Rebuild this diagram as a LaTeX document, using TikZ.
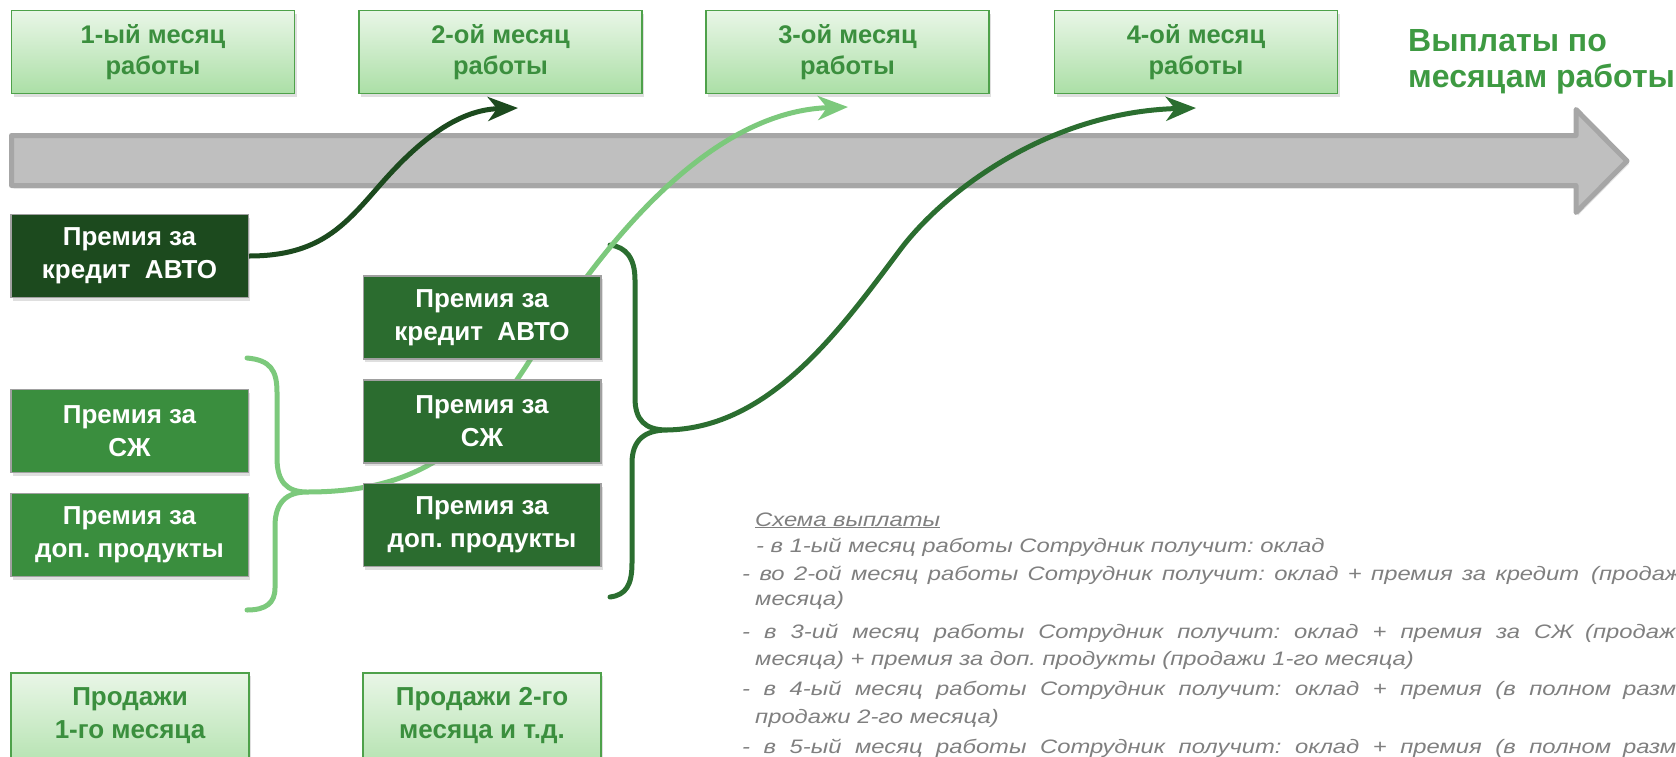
\documentclass[tikz,border=0pt]{standalone}
\usepackage{fontspec}
\setmainfont{Liberation Sans}
\newfontfamily\notefont[FakeStretch=1.22]{Liberation Sans Italic}
\usetikzlibrary{arrows.meta,shadows}
\frenchspacing
\definecolor{darkbox}{HTML}{1C4A1E}
\definecolor{leftbox}{HTML}{3A8E3E}
\definecolor{midbox}{HTML}{2B6C2F}
\definecolor{boxgray}{HTML}{A0A0A0}
\definecolor{topA}{HTML}{E9F6E7}
\definecolor{topB}{HTML}{ABDFA6}
\definecolor{topborder}{HTML}{4EA14A}
\definecolor{toptext}{HTML}{3B8F3E}
\definecolor{titlegreen}{HTML}{3E9A42}
\definecolor{arrowfill}{HTML}{BFBFBF}
\definecolor{arrowdraw}{HTML}{A6A6A6}
\definecolor{lightline}{HTML}{7CC97C}
\definecolor{darkline}{HTML}{2B6E30}
\definecolor{darkestline}{HTML}{1C4A1E}
\definecolor{notegray}{HTML}{7F7F7F}
\begin{document}
\begin{tikzpicture}[x=1pt,y=-1pt,
  shade/.style={drop shadow={opacity=0.25,shadow xshift=2pt,shadow yshift=-3pt}},
  topbox/.style={shade,draw=topborder,line width=1.5pt,top color=topA,bottom color=topB,
    minimum width=283pt,minimum height=83pt,inner sep=0pt,align=center,text=toptext,
    font=\bfseries\fontsize{25.5}{31}\selectfont},
  bonusbox/.style={shade,draw=boxgray,line width=1.5pt,minimum width=237.5pt,minimum height=83pt,
    inner sep=0pt,align=center,text=white,font=\bfseries\fontsize{26}{33}\selectfont},
  salesbox/.style={shade,draw=topborder,line width=1.5pt,top color=topA,bottom color=topB,
    minimum width=238pt,minimum height=110pt,text depth=30pt,anchor=north,inner sep=0pt,
    align=center,text=toptext,font=\bfseries\fontsize{26}{33}\selectfont},
  note/.style={anchor=base west,inner sep=0pt,text=notegray,font=\notefont\fontsize{19.5}{26}\selectfont},
  link/.style={line width=5pt,-{Stealth[length=30pt,width=24pt,inset=9pt]}},
  brace/.style={line width=5pt,line cap=round}
]
\useasboundingbox (0,0) rectangle (1676,756);

% timeline arrow
\draw[line width=5pt,line join=round,draw=arrowdraw,fill=arrowfill,
      drop shadow={opacity=0.2,shadow xshift=2pt,shadow yshift=-3pt}]
  (11.5,135.5) -- (1576,135.5) -- (1576,109.5) -- (1627,161) -- (1576,212.5)
  -- (1576,185.5) -- (11.5,185.5) -- cycle;

% top month boxes
\node[topbox] (m1) at (153,52) {1-ый месяц\\работы};
\node[topbox] (m2) at (500.5,52) {2-ой месяц\\работы};
\node[topbox] (m3) at (847.5,52) {3-ой месяц\\работы};
\node[topbox] (m4) at (1196,52) {4-ой месяц\\работы};

\node[anchor=west,inner sep=0pt,align=left,text=titlegreen,
      font=\bfseries\fontsize{32}{36}\selectfont] (title) at (1408,62)
  {Выплаты по\\месяцам работы};

% arrow end points
\coordinate (a2) at (518,108);
\coordinate (a3) at (848,107);
\coordinate (a4) at (1196,108);

% left brace (light)
\coordinate (lbt) at (307,492);
\draw[brace,lightline] (247,358) .. controls (270,360) and (277,370) .. (277,392)
  -- (277,458) .. controls (277,482) and (287,492) .. (lbt)
  .. controls (287,492) and (275,502) .. (275,526)
  -- (275,588) .. controls (275,603) and (266,610) .. (247,610);

% right brace (dark)
\coordinate (dbt) at (667,430);
\draw[brace,darkline] (610,245) .. controls (626,247) and (635,258) .. (635,280)
  -- (635,398) .. controls (635,420) and (645,430) .. (dbt)
  .. controls (645,430) and (632,440) .. (632,463)
  -- (632,563) .. controls (632,585) and (626,595) .. (610,597);

% light connector (behind middle boxes)
\draw[link,lightline] (lbt) .. controls (410,492) and (470,455) .. (530,360)
  .. controls (575,289) and (690,112) .. (a3);

% dark connector
\draw[link,darkline] (dbt) .. controls (770,428) and (840,330) .. (900,250)
  .. controls (945,190) and (1050,112) .. (a4);

% left column
\node[bonusbox,fill=darkbox] (la) at (129.5,256) {Премия за\\кредит\ \ АВТО};
\node[bonusbox,fill=leftbox] (ls) at (129.5,431) {Премия за\\СЖ};
\node[bonusbox,fill=leftbox] (ld) at (129.5,535) {Премия за\\доп. продукты};
\node[salesbox] (s1) at (130,672) {Продажи\\1-го месяца};

% middle column
\node[bonusbox,fill=midbox] (ma) at (482,317.5) {Премия за\\кредит\ \ АВТО};
\node[bonusbox,fill=midbox] (ms) at (482,421.5) {Премия за\\СЖ};
\node[bonusbox,fill=midbox] (md) at (482,525) {Премия за\\доп. продукты};
\node[salesbox] (s2) at (482,672) {Продажи 2-го\\месяца и т.д.};

% darkest connector
\draw[link,darkestline] (la.east) .. controls (320,256) and (345,225) .. (380,185)
  .. controls (415,145) and (455,110) .. (a2);

% payment scheme text
\node[note] (n0) at (755,526) {\underline{Схема выплаты}};
\node[note] (n1) at (756,552) {- в 1-ый месяц работы Сотрудник получит: оклад};
\node[note] (n2) at (742,580) {\makebox[837pt][s]{- во 2-ой месяц работы Сотрудник получит: оклад + премия за кредит}\hspace{12pt}(продажи};
\node[note] (n2b) at (755,605) {месяца)};
\node[note] (n3) at (742,638) {\makebox[831pt][s]{- в 3-ий месяц работы Сотрудник получит: оклад + премия за СЖ}\hspace{12pt}(продажи};
\node[note] (n3b) at (755,665) {месяца) + премия за доп. продукты (продажи 1-го месяца)};
\node[note] (n4) at (742,695) {\makebox[869pt][s]{- в 4-ый месяц работы Сотрудник получит: оклад + премия (в полном}\hspace{12pt}размере};
\node[note] (n4b) at (755,723) {продажи 2-го месяца)};
\node[note] (n5) at (742,753) {\makebox[869pt][s]{- в 5-ый месяц работы Сотрудник получит: оклад + премия (в полном}\hspace{12pt}размере};
\end{tikzpicture}
\end{document}
